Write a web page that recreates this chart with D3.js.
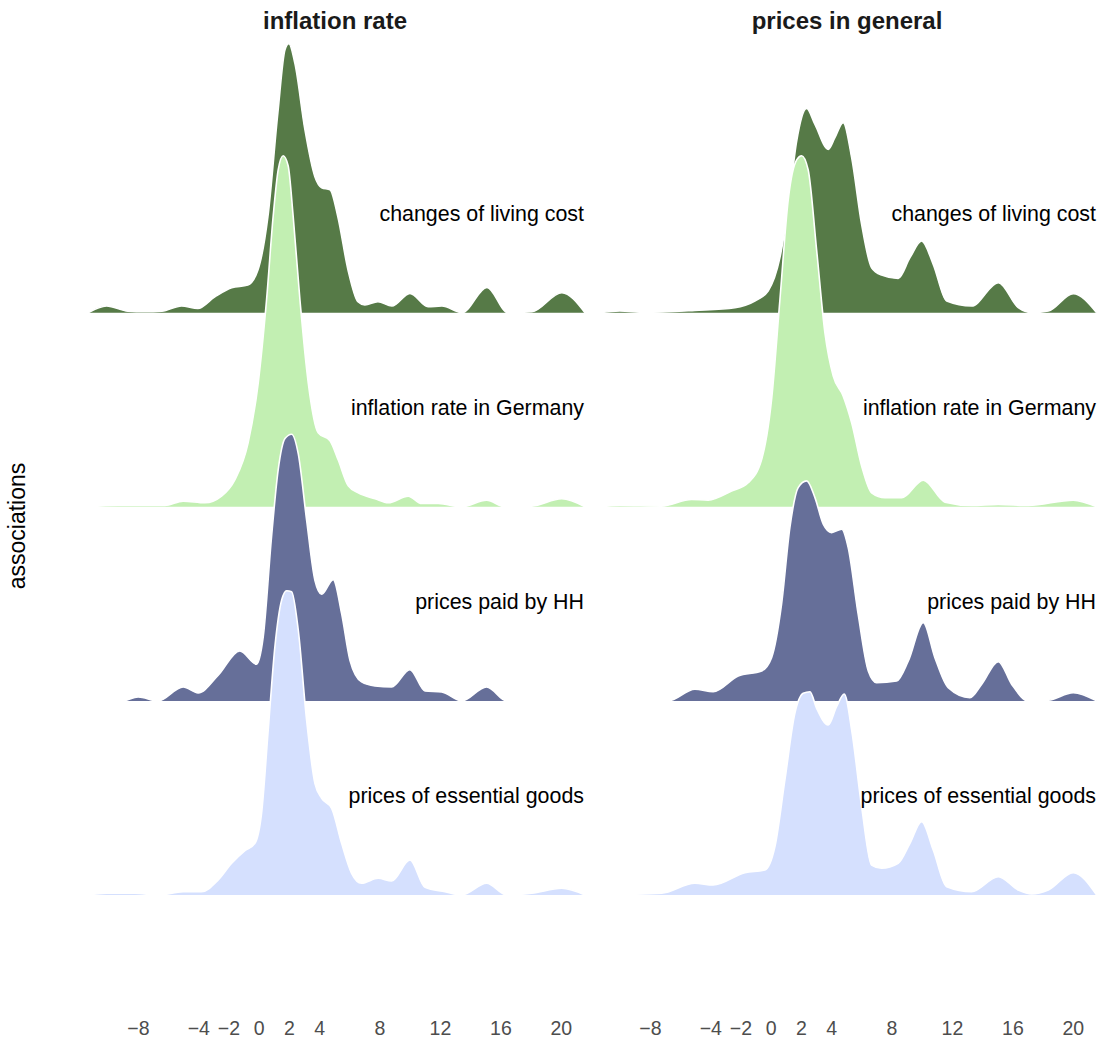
<!DOCTYPE html>
<html><head><meta charset="utf-8">
<script src="https://cdn.jsdelivr.net/npm/d3@7"></script>
<style>body{margin:0;background:#fff}</style>
</head><body><svg id="chart" width="1103" height="1042"></svg>
<script>
// ---------- data ----------
const panels = ["inflation rate", "prices in general"];
const categories = ["changes of living cost", "inflation rate in Germany", "prices paid by HH", "prices of essential goods"];
const tickValues = [-8, -4, -2, 0, 2, 4, 8, 12, 16, 20];
const xDomain = [-11.3, 21.8];

// density estimates [value, density]
const inflChanges = [[-11.3,0],[-10.07,.0067],[-8.66,.0015],[-7.54,.001],[-6.41,.0015],[-5.11,.0067],[-4.03,.0043],[-2.9,.016],[-1.79,.025],[-0.72,.0277],[-0.05,.0427],[0.61,.096],[1.27,.2],[1.74,.263],[2.0,.269],[2.4,.249],[3.06,.183],[3.72,.136],[4.17,.125],[4.72,.123],[5.24,.096],[5.91,.043],[6.57,.011],[7.03,.0077],[7.89,.011],[8.82,.0067],[10.01,.0193],[11.21,.006],[12.13,.0067],[13.46,0],[15.11,.0253],[16.5,0],[18.09,.001],[20.07,.02],[21.6,0]];
const inflGermany = [[-11.3,0],[-9.32,.0013],[-6.21,.0013],[-5.0,.0057],[-3.56,.004],[-2.46,.0107],[-1.58,.027],[-0.7,.064],[-0.03,.124],[0.52,.207],[0.96,.291],[1.29,.337],[1.62,.351],[1.95,.341],[2.28,.291],[2.73,.207],[3.28,.124],[3.94,.074],[4.72,.066],[5.26,.047],[5.93,.021],[6.59,.014],[7.7,.008],[8.58,.004],[9.9,.0107],[10.79,.0033],[11.89,.0033],[13.44,0],[15.09,.0067],[16.3,0],[18.07,.0007],[20.06,.008],[21.6,0]];
const inflPaidHH = [[-11.3,0],[-9.08,0],[-7.98,.004],[-6.66,0],[-5.0,.014],[-4.01,.008],[-2.68,.0257],[-1.25,.05],[-0.14,.0367],[0.3,.064],[0.85,.164],[1.29,.231],[1.74,.2623],[2.18,.2667],[2.62,.247],[3.17,.181],[3.72,.1207],[4.17,.1067],[4.93,.1213],[5.49,.0873],[6.04,.0407],[6.81,.019],[7.7,.015],[8.8,.014],[10.01,.0313],[11.01,.01],[12.11,.009],[13.44,0],[15.09,.014],[16.42,0],[21.6,0]];
const inflEssential = [[-11.3,0],[-10.07,.0017],[-8.2,.0017],[-6.66,0],[-5.0,.0033],[-3.78,.0033],[-2.68,.015],[-1.79,.0317],[-0.91,.0443],[-0.25,.0517],[0.19,.0817],[0.63,.165],[1.07,.248],[1.52,.295],[1.85,.3043],[2.18,.3033],[2.62,.265],[3.17,.175],[3.72,.1117],[4.17,.0967],[4.83,.0867],[5.49,.0517],[6.15,.0217],[6.81,.0117],[7.91,.0167],[8.8,.014],[10.01,.035],[11.01,.0077],[12.33,.0033],[13.44,0],[15.09,.0117],[16.42,0],[18.07,.0017],[20.06,.0067],[21.6,0]];

const pricesChanges = [[-11.3,0],[-9.99,.0017],[-8.33,.0003],[-5.02,.0023],[-2.37,.005],[-1.05,.0117],[-0.17,.0217],[0.61,.055],[1.16,.105],[1.72,.1717],[2.38,.2043],[2.93,.1883],[3.81,.1633],[4.25,.175],[4.8,.19],[5.36,.155],[6.02,.0883],[6.68,.045],[7.34,.0377],[8.44,.0343],[9.22,.055],[9.99,.0717],[10.76,.0483],[11.65,.0117],[13.3,.0067],[15.07,.03],[16.39,.005],[17.28,0],[18.38,.0017],[20.03,.019],[21.58,0]];
const pricesGermany = [[-11.3,0],[-9.99,.0013],[-7.23,.0007],[-5.24,.0073],[-4.14,.0067],[-2.59,.0157],[-1.49,.024],[-0.6,.0473],[0.06,.1073],[0.61,.207],[1.16,.307],[1.72,.347],[2.05,.351],[2.48,.337],[3.04,.257],[3.59,.174],[4.14,.1307],[4.8,.1107],[5.36,.084],[6.02,.0407],[6.68,.014],[7.56,.009],[8.67,.009],[10.1,.0267],[11.54,.0047],[13.3,.0013],[15.07,.0023],[17.05,.0013],[20.03,.0067],[21.58,0]];
const pricesPaidHH = [[-11.3,0],[-6.79,0],[-5.02,.0117],[-3.81,.0093],[-2.15,.025],[-0.6,.03],[0.06,.0433],[0.72,.0967],[1.27,.1733],[1.82,.2133],[2.38,.22],[2.93,.2033],[3.48,.1767],[4.03,.1683],[4.7,.1717],[5.13,.1533],[5.79,.0867],[6.46,.03],[7.01,.0183],[8.34,.02],[9.11,.04],[10.1,.0783],[10.87,.0433],[11.75,.0133],[13.19,.0033],[13.97,.0167],[15.07,.0393],[15.95,.0167],[17.05,0],[18.38,.0007],[20.03,.0083],[21.58,0]];
const pricesEssential = [[-11.3,0],[-7.23,.0017],[-5.02,.0117],[-3.81,.01],[-1.71,.0223],[-0.38,.025],[0.28,.0483],[0.94,.115],[1.6,.1817],[2.15,.2017],[2.6,.2033],[3.04,.1867],[3.81,.17],[4.36,.1883],[4.87,.201],[5.36,.165],[6.02,.0883],[6.68,.03],[7.34,.0267],[8.44,.0317],[9.22,.0517],[9.99,.0733],[10.76,.045],[11.65,.0083],[13.3,.0033],[15.07,.0183],[16.39,.005],[17.28,.001],[18.38,.005],[20.03,.0223],[21.58,0]];

const seriesByPanel = [
  [inflChanges, inflGermany, inflPaidHH, inflEssential],
  [pricesChanges, pricesGermany, pricesPaidHH, pricesEssential]
];
const fills = ["#567a47", "#c2efb2", "#666f99", "#d5e0fe"];

// ---------- drawing ----------
const svg = d3.select("#chart");
const font = "'Liberation Sans', Arial, Helvetica, sans-serif";
const panelRanges = [[88, 588], [600, 1100]];

const y = d3.scalePoint().domain(categories).range([312.7, 895]);
const h = d3.scaleLinear().domain([0, 0.35]).range([0, 350]);

panels.forEach((pName, pi) => {
  const x = d3.scaleLinear().domain(xDomain).range(panelRanges[pi]);
  const g = svg.append("g");

  categories.forEach((cat, ci) => {
    const base = y(cat);
    const data = seriesByPanel[pi][ci];
    const area = d3.area().x(d => x(d[0])).y0(base).y1(d => base - h(d[1])).curve(d3.curveMonotoneX);
    const line = d3.line().x(d => x(d[0])).y(d => base - h(d[1])).curve(d3.curveMonotoneX);
    g.append("path").attr("d", area(data)).attr("fill", fills[ci]);
    g.append("path").attr("d", line(data)).attr("fill", "none")
      .attr("stroke", "#fff").attr("stroke-width", 1.6).attr("stroke-linejoin", "round");
  });

  // labels
  categories.forEach(cat => {
    g.append("text").attr("x", panelRanges[pi][1] - 4).attr("y", y(cat) - 92)
      .attr("text-anchor", "end").attr("font-family", font).attr("font-size", 21.4)
      .attr("fill", "#000").text(cat);
  });

  // strip title
  svg.append("text").attr("x", (panelRanges[pi][0] + panelRanges[pi][1]) / 2 - 3).attr("y", 29)
    .attr("text-anchor", "middle").attr("font-family", font).attr("font-size", 24)
    .attr("font-weight", "bold").attr("fill", "#1a1a1a").text(pName);

  // x axis
  const ax = svg.append("g").attr("transform", "translate(0,1018)")
    .call(d3.axisBottom(x).tickValues(tickValues).tickSize(0).tickPadding(3).tickFormat(d3.format("d")));
  ax.select(".domain").remove();
  ax.selectAll("text").attr("font-family", font).attr("font-size", 19.5).attr("fill", "#4d4d4d");
});

// y axis title
svg.append("text").attr("transform", "translate(25,526) rotate(-90)")
  .attr("text-anchor", "middle").attr("font-family", font).attr("font-size", 23)
  .attr("fill", "#000").text("associations");
</script>
</body></html>
